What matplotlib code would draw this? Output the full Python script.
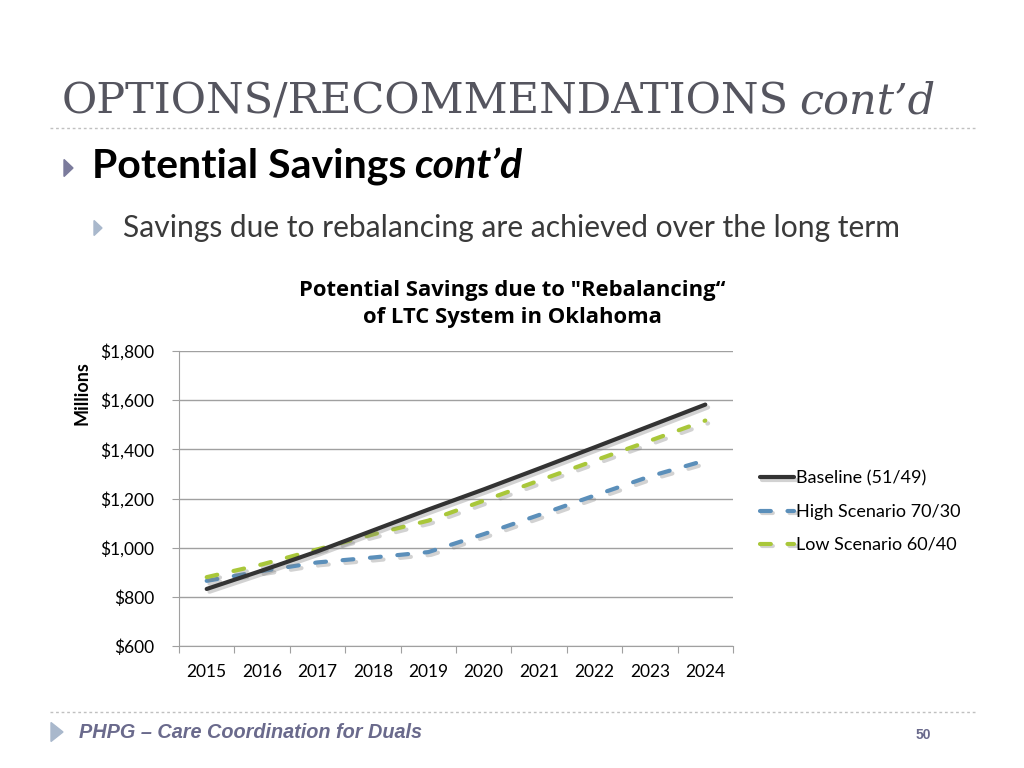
import matplotlib.pyplot as plt
import matplotlib.patheffects as pe
from matplotlib.patches import Polygon
from matplotlib.ticker import FuncFormatter

years = ['2015', '2016', '2017', '2018', '2019', '2020', '2021', '2022', '2023', '2024']
baseline = [832, 907, 985, 1070, 1155, 1237, 1322, 1408, 1495, 1582]
high = [865, 905, 940, 960, 982, 1055, 1133, 1212, 1290, 1355]
low = [880, 932, 993, 1054, 1110, 1191, 1273, 1354, 1435, 1517]
yticks = [600, 800, 1000, 1200, 1400, 1600, 1800]

sans = ['Lato', 'DejaVu Sans']
W, H = 1024, 768
fig = plt.figure(figsize=(10.24, 7.68), dpi=100)


def fx(px):
    return px / W


def fy(py):
    return 1 - py / H


def tri(x0, yc, w, h, color):
    fig.add_artist(Polygon([(fx(x0), fy(yc - h / 2)), (fx(x0), fy(yc + h / 2)), (fx(x0 + w), fy(yc))],
                           closed=True, color=color, transform=fig.transFigure))


# slide header
t = fig.text(fx(62), fy(101), 'OPTIONS/RECOMMENDATIONS', family='DejaVu Serif',
             fontsize=31, color='#55555f', va='center', ha='left')
fig.canvas.draw()
bb = t.get_window_extent()
fig.text(fx(bb.x1 + 10), fy(101), 'cont\u2019d', family='DejaVu Serif', style='italic',
         fontsize=31, color='#55555f', va='center', ha='left')
fig.add_artist(plt.Line2D([fx(50), fx(975)], [fy(128)] * 2, color='#c0c0c0', lw=1, ls=(0, (2, 2))))

tri(64, 168, 9, 17, '#7b7b9c')
t2 = fig.text(fx(92), fy(166), 'Potential Savings', family=sans, fontsize=29.5,
              fontweight='bold', color='black', va='center', ha='left')
fig.canvas.draw()
bb2 = t2.get_window_extent()
fig.text(fx(bb2.x1 + 8), fy(166), 'cont\u2019d', family=sans, fontsize=29.5,
         fontweight='bold', style='italic', color='black', va='center', ha='left')

tri(94, 228, 8, 15, '#a9b8cc')
fig.text(fx(123), fy(228), 'Savings due to rebalancing are achieved over the long term',
         family=sans, fontsize=21.6, color='#3a3a3a', va='center', ha='left')

# chart
ax = fig.add_axes([fx(179), fy(646), (733 - 179) / W, (646 - 351) / H])
x = list(range(len(years)))
shadow = [pe.SimpleLineShadow(offset=(2, -2), shadow_color='gray', alpha=0.35), pe.Normal()]
ax.plot(x, baseline, color='#333333', lw=3, label='Baseline (51/49)', path_effects=shadow,
        solid_capstyle='round', zorder=4)
ax.plot(x, high, color='#5b8fba', lw=3, ls=(0, (2.6, 4)), label='High Scenario 70/30',
        path_effects=shadow, dash_capstyle='round', zorder=3)
ax.plot(x, low, color='#a9c73a', lw=3, ls=(0, (2.6, 4)), label='Low Scenario 60/40',
        path_effects=shadow, dash_capstyle='round', zorder=3)

ax.set_ylim(600, 1800)
ax.set_yticks(yticks)
ax.yaxis.set_major_formatter(FuncFormatter(lambda v, p: '${:,.0f}'.format(v)))
ax.grid(axis='y', color='#a0a0a0', lw=1)
ax.set_axisbelow(True)
ax.set_xlim(-0.5, len(years) - 0.5)
ax.set_xticks([i - 0.5 for i in range(len(years) + 1)])
ax.set_xticklabels([])
ax.set_xticks(x, minor=True)
ax.set_xticklabels(years, minor=True)
ax.tick_params(axis='x', which='minor', length=0, pad=13)
ax.tick_params(axis='x', which='major', length=5, color='#a0a0a0')
ax.tick_params(axis='y', length=5, color='#a0a0a0', pad=13)
for lab in ax.get_xticklabels(minor=True) + ax.get_yticklabels():
    lab.set_family(sans)
    lab.set_fontsize(12.5)
for s in ['top', 'right']:
    ax.spines[s].set_visible(False)
for s in ['left', 'bottom']:
    ax.spines[s].set_color('#a0a0a0')

fig.text(fx(512), fy(304), 'Potential Savings due to "Rebalancing\u201c\nof LTC System in Oklahoma',
         family=['Open Sans', 'DejaVu Sans'], fontsize=15.8, fontweight='bold', linespacing=1.35,
         ha='center', va='center', multialignment='center')
fig.text(fx(82), fy(393), 'Millions', family=sans, fontsize=13, fontweight='bold',
         rotation=90, va='center', ha='center')

ax.legend(loc='center left', bbox_to_anchor=(1.035, 0.455), frameon=False,
          prop={'family': sans, 'size': 13}, handlelength=1.9, handletextpad=0.1,
          labelspacing=0.95, borderaxespad=0)

# footer
fig.add_artist(plt.Line2D([fx(50), fx(975)], [fy(712)] * 2, color='#c0c0c0', lw=1, ls=(0, (2, 2))))
tri(51, 732, 12, 19, '#a9b8cc')
fig.text(fx(79), fy(732), 'PHPG \u2013 Care Coordination for Duals', family='Liberation Sans',
         fontsize=14.3, fontweight='bold', style='italic', color='#6a6a8c', va='center', ha='left')
fig.text(fx(923), fy(735), '50', family='Liberation Sans', fontsize=10, fontweight='bold',
         color='#6a6a8c', va='center', ha='center')

fig.savefig('out.png', dpi=100)
